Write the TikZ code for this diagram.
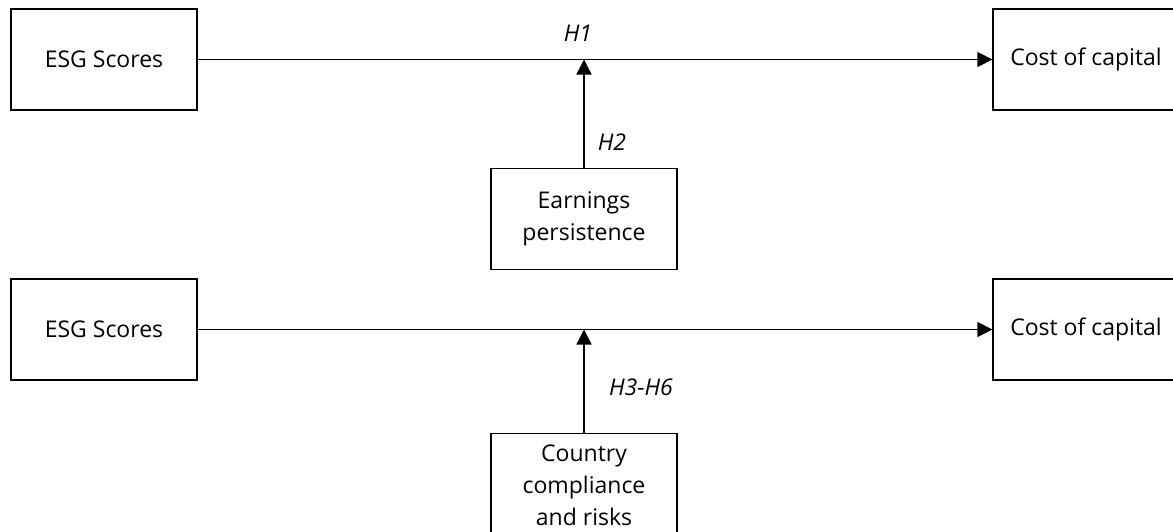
\documentclass[tikz,border=0pt]{standalone}
\usepackage{fontspec}
\setmainfont{Open Sans}
\usetikzlibrary{arrows.meta,positioning}
\tikzset{b/.style={draw,line width=0.65pt,minimum width=93pt,minimum height=50.5pt,align=center,inner sep=2pt,font=\fontsize{11.5}{16}\selectfont},hl/.style={font=\fontsize{11.5}{16}\selectfont\itshape},arr/.style={-{Triangle[length=7.5pt,width=7.5pt]},line width=0.65pt}}
\begin{document}
\begin{tikzpicture}[x=0.5pt,y=-0.5pt]
\useasboundingbox(0,0)rectangle(1173,531);\clip(0,0)rectangle(1173,531);
\node[b](esgA)at(104,59.5){ESG Scores};\node[b](costA)at(1086,59.5){Cost of capital};
\node[b](earn)at(584,219){Earnings\\persistence};
\node[b](esgB)at(104,329.5){ESG Scores};\node[b](costB)at(1086,329.5){Cost of capital};
\node[b,anchor=north,minimum height=56pt,text depth=4pt](ctry)at(584,433){Country\\compliance\\and risks};
\node[hl](h1)at(578,33){H1};\node[hl](h2)at(612,142){H2};\node[hl](h3)at(641,387){H3-H6};
\foreach\a/\b in{esgA/costA,esgB/costB}\draw[arr](\a)--(\b);
\draw[arr](earn)--(earn|-esgA.east);\draw[arr](ctry)--(ctry|-esgB.east);
\end{tikzpicture}
\end{document}
